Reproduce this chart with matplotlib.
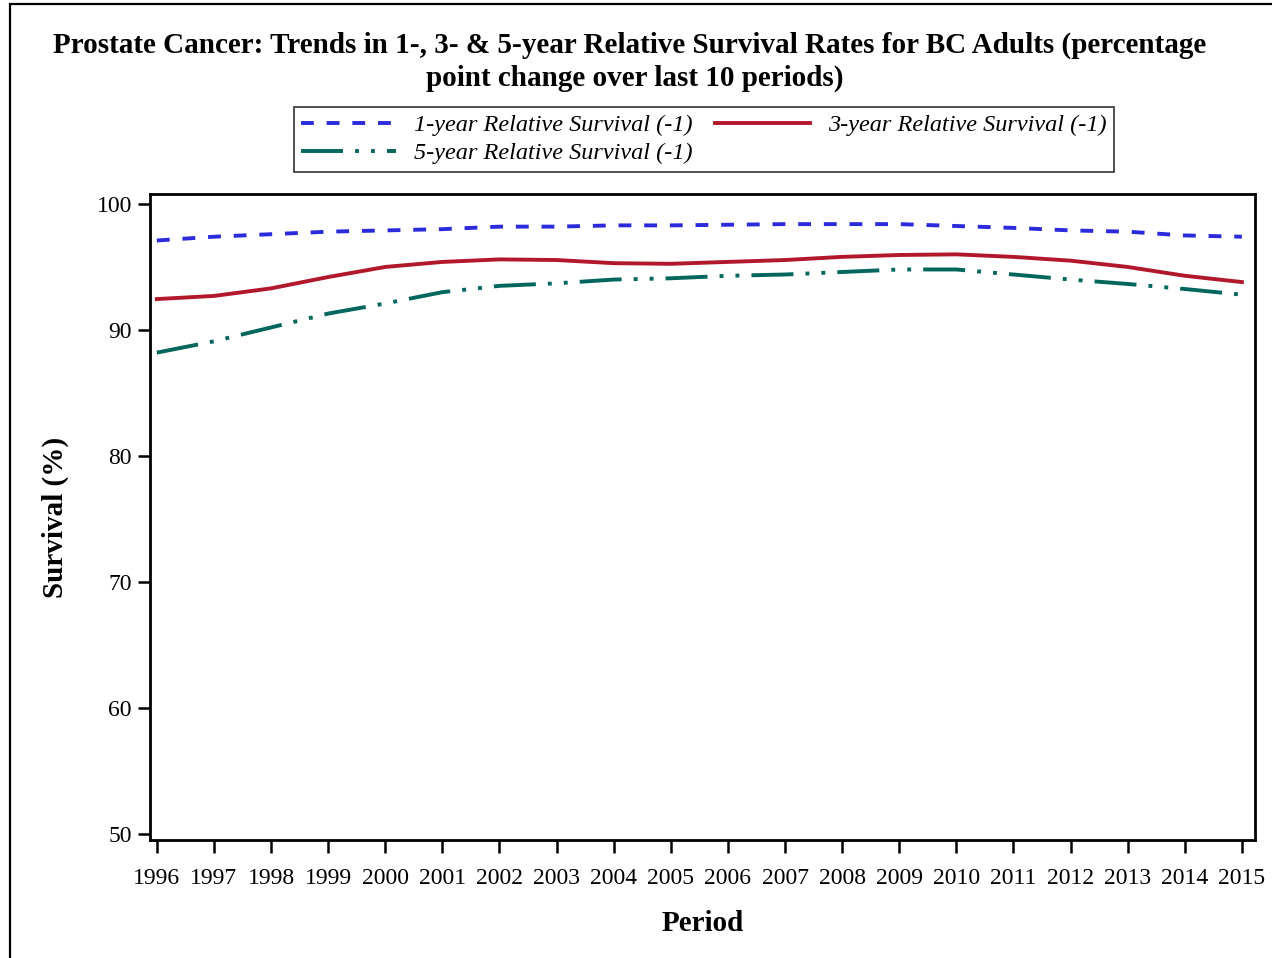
import matplotlib
matplotlib.use("Agg")
import matplotlib.pyplot as plt
from matplotlib.patches import Rectangle

# Dados
periods = list(range(1996, 2016))
surv_1yr = [97.1, 97.4, 97.6, 97.8, 97.9, 98.0, 98.2, 98.2, 98.3, 98.3,
            98.35, 98.4, 98.4, 98.4, 98.25, 98.1, 97.9, 97.8, 97.5, 97.4]
surv_3yr = [92.45, 92.7, 93.3, 94.2, 95.0, 95.4, 95.6, 95.55, 95.3, 95.25,
            95.4, 95.55, 95.8, 95.95, 96.0, 95.8, 95.5, 95.0, 94.3, 93.8]
surv_5yr = [88.2, 89.1, 90.2, 91.3, 92.1, 93.0, 93.5, 93.7, 94.0, 94.1,
            94.3, 94.4, 94.6, 94.8, 94.8, 94.4, 94.0, 93.65, 93.25, 92.8]
labels = ["1-year Relative Survival (-1)", "3-year Relative Survival (-1)",
          "5-year Relative Survival (-1)"]
yticks = [50, 60, 70, 80, 90, 100]

plt.rcParams["font.family"] = ["Liberation Serif", "DejaVu Serif"]

W, H = 1272, 958
fig = plt.figure(figsize=(W / 100, H / 100), dpi=100)

# Moldura da figura
fig.patches.append(Rectangle((10 / W, -0.05), 1.1, 1 - 4 / H + 0.05,
                             transform=fig.transFigure, fill=False,
                             edgecolor="black", linewidth=1.6))

ax = fig.add_axes([150 / W, (H - 840) / H, 1105 / W, 646 / H])

lw = 2.8
h1, = ax.plot(periods, surv_1yr, color="#2B2BDB", lw=lw,
              linestyle=(0, (3.3, 3.3)), label=labels[0])
h3, = ax.plot(periods, surv_3yr, color="#B2182B", lw=lw,
              linestyle="-", label=labels[1])
h5, = ax.plot(periods, surv_5yr, color="#01665E", lw=lw,
              linestyle=(0, (10.8, 3.1, 1.0, 3.1, 1.0, 3.1)), label=labels[2])

ax.set_xlim(1995.88, 2015.23)
ax.set_ylim(49.52, 100.79)
ax.set_xticks(periods)
ax.set_yticks(yticks)
ax.tick_params(axis="both", direction="out", length=9, width=1.8,
               labelsize=17, colors="black")
ax.tick_params(axis="x", pad=11)
ax.tick_params(axis="y", pad=4)
for s in ax.spines.values():
    s.set_linewidth(2)

ax.set_xlabel("Period", fontsize=21, fontweight="bold", labelpad=15)
ax.set_ylabel("Survival (%)", fontsize=21, fontweight="bold", labelpad=20)

fig.text(630 / W, 1 - 45 / H,
         "Prostate Cancer: Trends in 1-, 3- & 5-year Relative Survival Rates for BC Adults (percentage",
         ha="center", va="center", fontsize=21, fontweight="bold")
fig.text(635 / W, 1 - 78 / H, "point change over last 10 periods)",
         ha="center", va="center", fontsize=21, fontweight="bold")

leg = fig.legend([h1, h5, h3], [labels[0], labels[2], labels[1]], ncol=2,
                 loc="upper left", bbox_to_anchor=(294 / W, 1 - 107 / H),
                 frameon=True, fancybox=False, edgecolor="black",
                 prop={"style": "italic", "size": 17.5}, handlelength=3.9,
                 labelspacing=0.25, columnspacing=0.9, borderpad=0.3,
                 handletextpad=0.75, borderaxespad=0)
leg.get_frame().set_linewidth(1.2)

plt.savefig("out.png", dpi=100)
